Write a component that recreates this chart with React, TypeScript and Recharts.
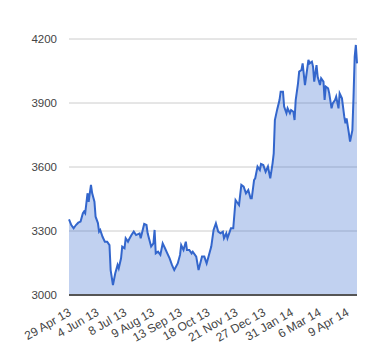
import React from 'react';
import { AreaChart, Area, XAxis, YAxis, CartesianGrid, ReferenceLine } from 'recharts';

const days = [0,2,4,6,8,10,12,13,14,16,17,18,19,20,22,23,25,26,27,29,31,33,35,36,38,40,42,43,45,46,48,49,51,52,54,56,58,61,62,65,67,68,71,73,74,75,77,79,81,83,85,87,89,91,94,96,97,99,101,102,104,106,107,110,112,115,117,119,121,123,125,127,129,131,133,134,136,137,139,140,142,144,145,147,149,151,153,155,157,158,160,161,163,165,166,168,170,172,174,176,177,178,180,182,183,185,186,188,189,191,192,194,195,196,198,199,201,202,204,205,207,208,210,211,212,214,215,217,218,220,221,222,224,225,227,228,230,231,233,234,236,238,239,240,242,243,245,246,247,248,249];
const values = [3355,3328,3313,3328,3339,3344,3383,3391,3383,3477,3437,3478,3516,3478,3437,3367,3337,3297,3305,3273,3250,3250,3234,3117,3047,3102,3141,3125,3172,3227,3219,3266,3250,3261,3281,3297,3281,3289,3266,3333,3328,3289,3227,3242,3305,3195,3203,3188,3242,3219,3195,3172,3141,3117,3148,3188,3234,3211,3250,3211,3211,3195,3203,3180,3117,3180,3180,3148,3188,3227,3305,3336,3297,3289,3297,3266,3289,3266,3297,3313,3313,3445,3437,3422,3516,3508,3477,3492,3453,3453,3539,3547,3602,3586,3614,3609,3578,3602,3547,3617,3664,3820,3870,3914,3953,3953,3883,3852,3875,3852,3867,3859,3820,3914,3992,4047,4055,4086,3984,4023,4102,4086,4094,4070,4000,4078,4023,3984,4016,4000,3914,3977,3969,3945,3875,3898,3914,3930,3875,3945,3922,3836,3805,3828,3758,3719,3773,3930,4117,4172,4086];
const tickDays = [0,24,48,72,96,120,144,168,192,216,240];
const tickLabels = ['29 Apr 13','4 Jun 13','8 Jul 13','9 Aug 13','13 Sep 13','18 Oct 13','21 Nov 13','27 Dec 13','31 Jan 14','6 Mar 14','9 Apr 14'];
const yTicks = [3000, 3300, 3600, 3900, 4200];

const data = days.map((d, i) => ({ day: d, value: values[i] }));

const FONT = '"Liberation Sans", Arial, sans-serif';

const XTick = (props: any) => {
  const { x, y, payload } = props;
  const idx = tickDays.indexOf(payload.value);
  const label = idx >= 0 ? tickLabels[idx] : '';
  return (
    <g transform={`translate(${x + 1},${y + 8})`}>
      <text transform="rotate(-30)" textAnchor="end" fill="#444" fontSize={12} fontFamily={FONT} dy="0.35em">
        {label}
      </text>
    </g>
  );
};

export default function App() {
  return (
    <AreaChart
      width={372}
      height={352}
      data={data}
      margin={{ top: 31, right: 23, bottom: 0, left: 0 }}
    >
      <CartesianGrid horizontal={true} vertical={false} stroke="#cccccc" />
      <XAxis
        dataKey="day"
        type="number"
        domain={[0, 249]}
        ticks={tickDays}
        interval={0}
        height={65}
        tick={<XTick />}
        tickLine={false}
        axisLine={false}
      />
      <YAxis
        domain={[3000, 4200]}
        ticks={yTicks}
        width={61}
        tickLine={false}
        axisLine={false}
        tickMargin={6}
        tick={{ fill: '#444', fontSize: 11.5, fontFamily: FONT }}
      />
      <Area
        type="linear"
        dataKey="value"
        stroke="#3366cc"
        strokeWidth={2}
        fill="#3366cc"
        fillOpacity={0.3}
        isAnimationActive={false}
        dot={false}
        activeDot={false}
      />
      <ReferenceLine y={3000} stroke="#555555" strokeWidth={2} />
    </AreaChart>
  );
}
